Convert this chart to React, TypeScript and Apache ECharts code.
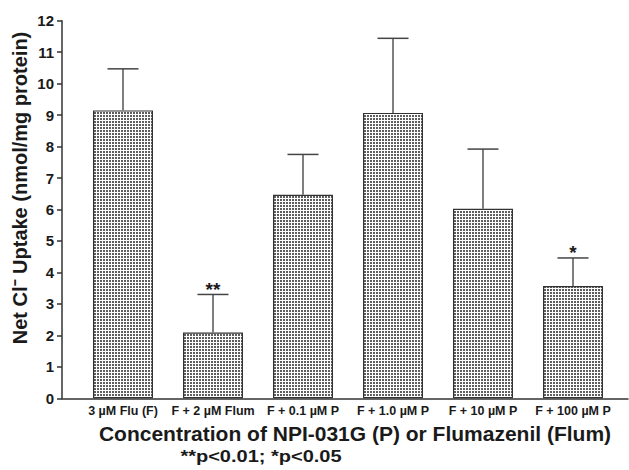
import React, { useEffect, useRef } from "react";
import * as echarts from "echarts";

const categories = [
  "3 µM Flu (F)",
  "F + 2 µM Flum",
  "F + 0.1 µM P",
  "F + 1.0 µM P",
  "F + 10 µM P",
  "F + 100 µM P",
];
const means = [9.15, 2.09, 6.47, 9.07, 6.02, 3.57];
const upperErr = [10.47, 3.3, 7.75, 11.44, 7.92, 4.46];
const sigMarks = ["", "**", "", "", "", "*"];
const yMin = 0;
const yMax = 12;
const yInterval = 1;

const yTitle = "Net Cl\u207B Uptake (nmol/mg protein)";
const xTitle = "Concentration of NPI-031G (P) or Flumazenil (Flum)";
const footnote = "**p<0.01; *p<0.05";

const FONT = '"Liberation Sans", Arial, Helvetica, sans-serif';

function makePattern(): HTMLCanvasElement {
  const c = document.createElement("canvas");
  c.width = 3;
  c.height = 3;
  const ctx = c.getContext("2d")!;
  ctx.fillStyle = "#ffffff";
  ctx.fillRect(0, 0, 3, 3);
  ctx.fillStyle = "#5e5e5e";
  ctx.fillRect(1, 1, 2, 2);
  return c;
}

export default function App() {
  const ref = useRef<HTMLDivElement>(null);
  useEffect(() => {
    if (!ref.current) return;
    const chart = echarts.init(ref.current, null, { renderer: "svg" });
    const pattern = makePattern();
    const option: any = {
      animation: false,
      backgroundColor: "#ffffff",
      grid: [
        { left: 78, right: 11, top: 20.7, bottom: 71.7 },
        { left: 62, right: 1, top: 20.7, bottom: 71.7 },
      ],
      xAxis: [
        {
          type: "category",
          gridIndex: 0,
          data: categories,
          axisLine: { show: false },
          axisTick: { show: false },
          axisLabel: {
            interval: 0,
            margin: 6,
            fontSize: 12.5,
            fontWeight: "bold",
            fontFamily: FONT,
            color: "#1a1a1a",
          },
        },
        {
          type: "value",
          gridIndex: 1,
          min: 0,
          max: 1,
          axisLine: { show: true, lineStyle: { color: "#333", width: 1.5 } },
          axisTick: { show: false },
          axisLabel: { show: false },
          splitLine: { show: false },
        },
      ],
      yAxis: [
        {
          type: "value",
          gridIndex: 0,
          min: yMin,
          max: yMax,
          interval: yInterval,
          offset: 16,
          axisLine: { show: true, lineStyle: { color: "#333", width: 1.5 } },
          axisTick: { show: true, length: 5, lineStyle: { color: "#333", width: 1.5 } },
          axisLabel: {
            margin: 8,
            fontSize: 15,
            fontWeight: "bold",
            fontFamily: FONT,
            color: "#1a1a1a",
          },
          splitLine: { show: false },
        },
        {
          type: "value",
          gridIndex: 1,
          min: 0,
          max: 1,
          show: false,
        },
      ],
      series: [
        {
          type: "bar",
          xAxisIndex: 0,
          yAxisIndex: 0,
          data: means,
          barWidth: 60,
          itemStyle: {
            color: { image: pattern, repeat: "repeat" },
            borderColor: "#333",
            borderWidth: 1.2,
          },
          z: 2,
        },
        {
          type: "custom",
          xAxisIndex: 0,
          yAxisIndex: 0,
          data: categories.map((_, i) => [i, upperErr[i], means[i]]),
          encode: { x: 0, y: 1 },
          z: 3,
          renderItem: (params: any, api: any) => {
            const i = api.value(0);
            const top = api.coord([i, api.value(1)]);
            const base = api.coord([i, api.value(2)]);
            const half = 15.5;
            const children: any[] = [
              {
                type: "line",
                shape: { x1: top[0], y1: base[1], x2: top[0], y2: top[1] },
                style: { stroke: "#555", lineWidth: 1.5 },
              },
              {
                type: "line",
                shape: { x1: top[0] - half, y1: top[1], x2: top[0] + half, y2: top[1] },
                style: { stroke: "#444", lineWidth: 1.5 },
              },
            ];
            const mark = sigMarks[params.dataIndex];
            if (mark) {
              children.push({
                type: "text",
                x: top[0],
                y: top[1] - 5,
                style: {
                  text: mark,
                  fontSize: 19,
                  fontWeight: "bold",
                  fontFamily: FONT,
                  fill: "#1a1a1a",
                  align: "center",
                  verticalAlign: "middle",
                },
              });
            }
            return { type: "group", children };
          },
        },
      ],
      graphic: [
        {
          type: "text",
          x: 20,
          y: 188,
          rotation: Math.PI / 2,
          style: {
            text: yTitle,
            fontSize: 20,
            fontWeight: "bold",
            fontFamily: FONT,
            fill: "#1a1a1a",
            align: "center",
            verticalAlign: "middle",
          },
        },
        {
          type: "text",
          x: 355,
          y: 433,
          style: {
            text: xTitle,
            fontSize: 21,
            fontWeight: "bold",
            fontFamily: FONT,
            fill: "#1a1a1a",
            align: "center",
            verticalAlign: "middle",
          },
        },
        {
          type: "text",
          x: 261,
          y: 457,
          scaleX: 1.25,
          style: {
            text: footnote,
            fontSize: 16,
            fontWeight: "bold",
            fontFamily: FONT,
            fill: "#1a1a1a",
            align: "center",
            verticalAlign: "middle",
          },
        },
      ],
    };
    chart.setOption(option);
    return () => chart.dispose();
  }, []);
  return (
    <div
      ref={ref}
      style={{ position: "fixed", left: 0, top: 0, width: 629, height: 470, background: "#fff" }}
    />
  );
}
